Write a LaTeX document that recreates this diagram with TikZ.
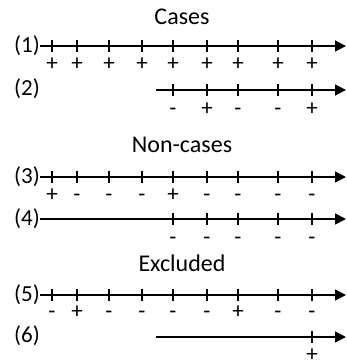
\documentclass[tikz,border=0pt]{standalone}
\usepackage{fontspec}
\setmainfont{Carlito}
\usetikzlibrary{arrows.meta}
\begin{document}
\begin{tikzpicture}[x=1pt,y=-1pt,
  axis/.style={line width=1.7pt,-{Triangle[length=11pt,width=11pt]}},
  tickmark/.style={line width=1.4pt},
  title/.style={font=\fontsize{24}{28}\selectfont,inner sep=0pt},
  rowlabel/.style={font=\fontsize{23}{27}\selectfont,anchor=east,inner sep=0pt},
  sign/.style={font=\fontsize{23}{27}\selectfont,inner sep=0pt,anchor=base,yshift=-7pt}]
\useasboundingbox (0,0) rectangle (346,364);
% titles
\node[title] (t1) at (182,17) {Cases};
\node[title] (t2) at (182,145) {Non-cases};
\node[title] (t3) at (182,263) {Excluded};
% row 1
\node[rowlabel] (l1) at (40,46) {(1)};
\coordinate (s1) at (40,46); \coordinate (e1) at (346,46);
\draw[axis] (s1) -- (e1);
\foreach \x/\s in {52/+,77/+,109/+,142/+,173/+,207/+,238/+,278/+,312/+}{
  \draw[tickmark] (\x,40) -- (\x,52);
  \node[sign] (a\x) at (\x,63) {\s};}
% row 2
\node[rowlabel] (l2) at (40,89) {(2)};
\coordinate (s2) at (156,90); \coordinate (e2) at (346,90);
\draw[axis] (s2) -- (e2);
\foreach \x/\s in {173/-,207/+,238/-,278/-,312/+}{
  \draw[tickmark] (\x,84) -- (\x,96);
  \node[sign] (b\x) at (\x,108) {\s};}
% row 3
\node[rowlabel] (l3) at (40,177) {(3)};
\coordinate (s3) at (40,177); \coordinate (e3) at (346,177);
\draw[axis] (s3) -- (e3);
\foreach \x/\s in {52/+,77/-,109/-,142/-,173/+,207/-,238/-,278/-,312/-}{
  \draw[tickmark] (\x,171) -- (\x,183);
  \node[sign] (c\x) at (\x,194) {\s};}
% row 4
\node[rowlabel] (l4) at (40,219) {(4)};
\coordinate (s4) at (40,219); \coordinate (e4) at (346,219);
\draw[axis] (s4) -- (e4);
\foreach \x/\s in {173/-,207/-,238/-,278/-,312/-}{
  \draw[tickmark] (\x,213) -- (\x,225);
  \node[sign] (d\x) at (\x,237) {\s};}
% row 5
\node[rowlabel] (l5) at (40,295) {(5)};
\coordinate (s5) at (40,295); \coordinate (e5) at (346,295);
\draw[axis] (s5) -- (e5);
\foreach \x/\s in {52/-,77/+,109/-,142/-,173/-,207/-,238/+,278/-,312/-}{
  \draw[tickmark] (\x,289) -- (\x,301);
  \node[sign] (f\x) at (\x,311) {\s};}
% row 6
\node[rowlabel] (l6) at (40,336) {(6)};
\coordinate (s6) at (156,337); \coordinate (e6) at (346,337);
\draw[axis] (s6) -- (e6);
\foreach \x/\s in {312/+}{
  \draw[tickmark] (\x,331) -- (\x,343);
  \node[sign] (g\x) at (\x,354) {\s};}
\end{tikzpicture}
\end{document}
